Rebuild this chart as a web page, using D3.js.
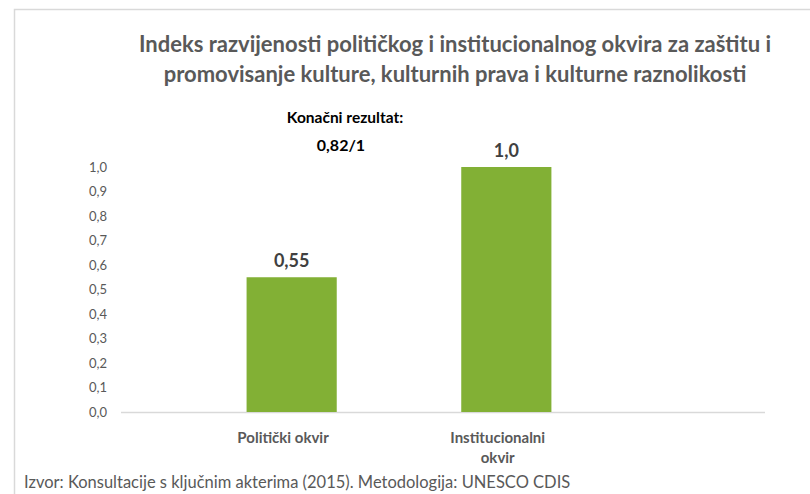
<!DOCTYPE html>
<html>
<head>
<meta charset="utf-8">
<script src="https://cdn.jsdelivr.net/npm/d3@7"></script>
<style>
  html, body { margin: 0; padding: 0; background: #fff; }
  svg { display: block; }
</style>
</head>
<body>
<svg id="chart" width="810" height="494"></svg>
<script>
const categories = ["Politički okvir", "Institucionalni okvir", ""];
const categoryLines = [["Politički okvir"], ["Institucionalni", "okvir"], []];
const values = [0.55, 1.0, null];
const valueLabels = ["0,55", "1,0", ""];
const yTicks = [0, 0.1, 0.2, 0.3, 0.4, 0.5, 0.6, 0.7, 0.8, 0.9, 1.0];
const titleLines = [
  "Indeks razvijenosti političkog i institucionalnog okvira za zaštitu i",
  "promovisanje kulture, kulturnih prava i kulturne raznolikosti"
];
const subtitle = "Konačni rezultat:";
const finalScore = "0,82/1";
const sourceText = "Izvor: Konsultacije s ključnim akterima (2015). Metodologija: UNESCO CDIS";

const svg = d3.select("#chart");
const font = "Lato, 'Open Sans', sans-serif";

// frame border
svg.append("rect")
  .attr("x", 14.5).attr("y", 9.5)
  .attr("width", 900).attr("height", 600)
  .attr("fill", "none").attr("stroke", "#d9d9d9").attr("stroke-width", 1.5);

const plot = { left: 121, right: 765, top: 167, bottom: 412 };

const x = d3.scaleBand().domain(categories).range([plot.left, plot.right]).paddingInner(0).paddingOuter(0);
const y = d3.scaleLinear().domain([0, 1]).range([plot.bottom, plot.top]);

const barW = x.bandwidth() * 0.42;
const barCenter = d => x(d) + x.bandwidth() * 0.795;
const labelCenter = d => x(d) + x.bandwidth() * 0.755;

// title
svg.append("g").selectAll("text").data(titleLines).join("text")
  .attr("x", 455).attr("y", (d, i) => 52 + i * 30)
  .attr("text-anchor", "middle")
  .attr("font-family", font).attr("font-weight", "bold").attr("font-size", 22)
  .attr("fill", "#595959")
  .text(d => d);

svg.append("text")
  .attr("x", 345).attr("y", 123)
  .attr("text-anchor", "middle")
  .attr("font-family", font).attr("font-weight", "bold").attr("font-size", 15.5)
  .attr("fill", "#000")
  .text(subtitle);

svg.append("text")
  .attr("x", 341).attr("y", 151)
  .attr("text-anchor", "middle")
  .attr("font-family", font).attr("font-weight", "bold").attr("font-size", 16)
  .attr("fill", "#000")
  .text(finalScore);

// y axis (labels only)
const yAxis = d3.axisLeft(y).tickValues(yTicks).tickSize(0).tickPadding(0)
  .tickFormat(d => d3.format(".1f")(d).replace(".", ","));
const gy = svg.append("g").attr("transform", `translate(107,0)`).call(yAxis);
gy.select(".domain").remove();
gy.selectAll("text")
  .attr("font-family", font).attr("font-size", 13).attr("fill", "#595959");

// x axis line
svg.append("line")
  .attr("x1", plot.left).attr("x2", plot.right)
  .attr("y1", y(0) + 0.5).attr("y2", y(0) + 0.5)
  .attr("stroke", "#d9d9d9").attr("stroke-width", 1.5);

// bars
const data = categories.map((c, i) => ({ c, v: values[i], lab: valueLabels[i], lines: categoryLines[i] }));
svg.append("g").selectAll("rect").data(data.filter(d => d.v != null)).join("rect")
  .attr("x", d => barCenter(d.c) - barW / 2)
  .attr("y", d => y(d.v))
  .attr("width", barW)
  .attr("height", d => y(0) - y(d.v))
  .attr("fill", "#82b035");

// value labels
svg.append("g").selectAll("text").data(data.filter(d => d.v != null)).join("text")
  .attr("x", d => barCenter(d.c))
  .attr("y", d => y(d.v) - 10)
  .attr("text-anchor", "middle")
  .attr("font-family", font).attr("font-weight", "bold").attr("font-size", 18)
  .attr("fill", "#404040")
  .text(d => d.lab);

// category labels
const cat = svg.append("g").selectAll("text").data(data).join("text")
  .attr("text-anchor", "middle")
  .attr("font-family", font).attr("font-weight", "bold").attr("font-size", 15)
  .attr("fill", "#595959")
  .attr("x", d => labelCenter(d.c))
  .attr("y", 443);
cat.selectAll("tspan").data(d => d.lines.map(l => ({ l, cx: labelCenter(d.c) }))).join("tspan")
  .attr("x", d => d.cx)
  .attr("dy", (d, i) => i === 0 ? 0 : 20)
  .text(d => d.l);

// source
svg.append("text")
  .attr("x", 24).attr("y", 488)
  .attr("font-family", font).attr("font-size", 16.5)
  .attr("fill", "#595959")
  .text(sourceText);
</script>
</body>
</html>
